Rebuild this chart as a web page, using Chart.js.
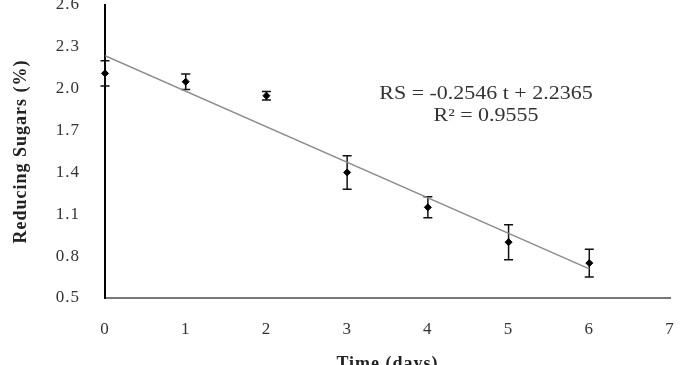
<!doctype html>
<html>

<head>
  <script src="https://cdn.jsdelivr.net/npm/chart.js@4"></script>
  <style>
    body { margin: 0; background: #fff; }
  </style>
</head>

<body>
  <div style="width: 688px; height: 365px;">
    <canvas id="canvas"></canvas>
  </div>
  <script>
    const days = [0, 1, 2, 3, 4, 5, 6];
    const sugars = [2.11, 2.05, 1.95, 1.40, 1.15, 0.90, 0.75];
    const errors = [0.09, 0.055, 0.03, 0.12, 0.075, 0.125, 0.10];
    // linear fit shown on the chart
    const fitDays = [0, 6];
    const fitSugars = [2.2365, 0.7089];
    const yTickValues = [0.5, 0.8, 1.1, 1.4, 1.7, 2.0, 2.3, 2.6];
    const equation = ['RS = -0.2546 t + 2.2365', 'R² = 0.9555'];

    const serif = 'Liberation Serif';

    // the source text is a bit stretched, spread the letters a little
    const spacing = {
      id: 'spacing',
      beforeDraw(chart) { chart.ctx.letterSpacing = '1px'; }
    };

    const errorBars = {
      id: 'errorBars',
      beforeDatasetsDraw(chart) {
        const { ctx, scales: { x, y } } = chart;
        ctx.save();
        ctx.strokeStyle = '#111';
        ctx.lineWidth = 1.5;
        days.forEach((d, i) => {
          const px = x.getPixelForValue(d);
          const top = y.getPixelForValue(sugars[i] + errors[i]);
          const bot = y.getPixelForValue(sugars[i] - errors[i]);
          ctx.beginPath();
          ctx.moveTo(px, top); ctx.lineTo(px, bot);
          ctx.moveTo(px - 4.5, top); ctx.lineTo(px + 4.5, top);
          ctx.moveTo(px - 4.5, bot); ctx.lineTo(px + 4.5, bot);
          ctx.stroke();
        });
        ctx.restore();
      }
    };

    const equationLabel = {
      id: 'equationLabel',
      afterDraw(chart) {
        const { ctx, scales: { x, y } } = chart;
        ctx.save();
        ctx.letterSpacing = '0px';
        ctx.font = '18px "' + serif + '"';
        ctx.fillStyle = '#333';
        ctx.textAlign = 'center';
        ctx.textBaseline = 'middle';
        const cx = x.getPixelForValue(4.72);
        const sx = 1.22;
        ctx.scale(sx, 1);
        ctx.fillText(equation[0], cx / sx, y.getPixelForValue(1.96));
        ctx.fillText(equation[1], cx / sx, y.getPixelForValue(1.80));
        ctx.restore();
      }
    };

    new Chart(document.getElementById('canvas').getContext('2d'), {
      type: 'scatter',
      data: {
        datasets: [{
          data: days.map((d, i) => ({ x: d, y: sugars[i] })),
          pointStyle: 'rectRot',
          pointRadius: 3.5,
          pointBackgroundColor: '#000',
          pointBorderColor: '#000',
          showLine: false,
          clip: false,
          order: 1
        }, {
          data: fitDays.map((d, i) => ({ x: d, y: fitSugars[i] })),
          showLine: true,
          borderColor: '#8a8a8a',
          borderWidth: 1.3,
          pointRadius: 0,
          order: 0
        }]
      },
      options: {
        responsive: true,
        maintainAspectRatio: false,
        animation: false,
        layout: { padding: { top: 5, right: 18, left: 0, bottom: 0 } },
        plugins: { legend: { display: false }, tooltip: { enabled: false } },
        scales: {
          x: {
            type: 'linear',
            min: 0,
            max: 7,
            grid: { display: false, drawTicks: false },
            border: { display: true, color: '#777', width: 2 },
            ticks: {
              stepSize: 1,
              padding: 21,
              color: '#333',
              font: { family: serif, size: 17 }
            },
            title: {
              display: true,
              text: 'Time (days)',
              color: '#222',
              font: { family: serif, size: 18, weight: 'bold' },
              padding: { top: 0, bottom: -10 }
            },
            afterFit(scale) {
              scale.height = 67;
              scale.paddingLeft = 0;
              scale.paddingRight = 0;
            }
          },
          y: {
            type: 'linear',
            min: 0.5,
            max: 2.6,
            grid: { display: false, drawTicks: false },
            border: { display: true, color: '#000', width: 2 },
            afterBuildTicks(scale) { scale.ticks = yTickValues.map(v => ({ value: v })); },
            ticks: {
              padding: 25,
              color: '#333',
              font: { family: serif, size: 17 },
              callback: v => v.toFixed(1)
            },
            title: {
              display: true,
              text: 'Reducing Sugars (%)',
              color: '#222',
              font: { family: serif, size: 18, weight: 'bold' },
              padding: { top: 11, bottom: 0 }
            },
            afterFit(scale) {
              scale.width = 105;
              scale.paddingTop = 0;
              scale.paddingBottom = 0;
            }
          }
        }
      },
      plugins: [spacing, errorBars, equationLabel]
    });
  </script>
</body>

</html>
